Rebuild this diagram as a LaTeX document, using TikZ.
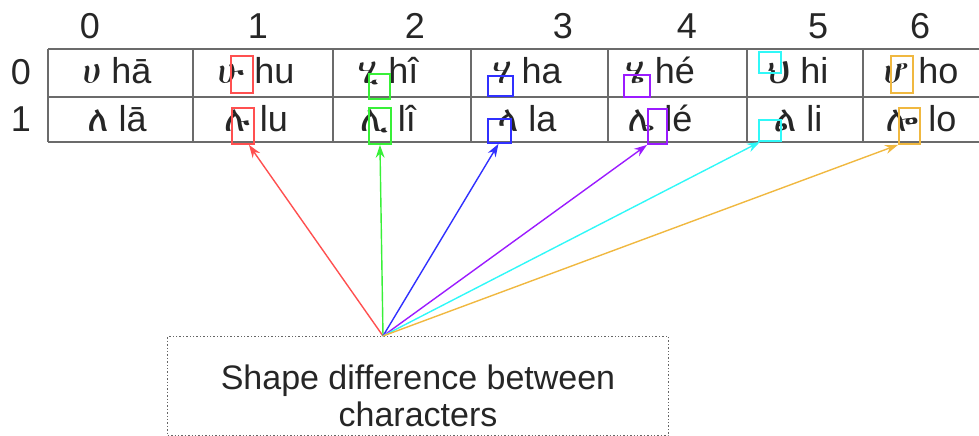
\documentclass[tikz,border=0pt]{standalone}
\usepackage{fontspec}
\setmainfont{Liberation Sans}
\IfFontExistsTF{FreeSerif}{\newfontfamily\ethfont{FreeSerif}}{%
  \IfFontExistsTF{FreeSerif.otf}{\newfontfamily\ethfont{FreeSerif.otf}}{%
    \IfFontExistsTF{Abyssinica SIL}{\newfontfamily\ethfont{Abyssinica SIL}}{%
      \newfontfamily\ethfont{DejaVu Sans}}}}
\usetikzlibrary{arrows.meta}
\definecolor{mred}{HTML}{FF5050}
\definecolor{mgreen}{HTML}{38F038}
\definecolor{mblue}{HTML}{3030FF}
\definecolor{mpurple}{HTML}{9B1BFF}
\definecolor{mcyan}{HTML}{30F8F8}
\definecolor{morange}{HTML}{F0B840}
\begin{document}
\begin{tikzpicture}[x=1pt, y=-1pt,
        grid/.style={draw=black!58, line width=2.3pt},
        cell/.style={font=\fontsize{36}{40}\selectfont, text=black!85, inner sep=0pt, anchor=base},
        hilite/.style={draw, line width=1.9pt, inner sep=0pt, anchor=north west},
        pointer/.style={-{Stealth[length=13pt,width=9pt]}, line width=1.4pt},
        note/.style={draw=black!60, dotted, line width=1.4pt, minimum width=501pt, minimum height=99pt, anchor=north west}]
    \useasboundingbox (0,0) rectangle (979,436);

    % table
    \foreach \y in {49,97,142} \draw[grid] (48,\y) -- (1000,\y);
    \foreach \x in {48,193,333,471,608,747,863} \draw[grid] (\x,49) -- (\x,142);

    \foreach \i/\x in {0/90,1/258,2/415,3/563,4/687,5/818,6/920}
        \node[cell] (col\i) at (\x,39) {\i};
    \node[cell] (row0) at (21,84) {0};
    \node[cell] (row1) at (21,131) {1};

    \foreach \i/\x/\ha/\hb/\la/\lb in {0/117/ሀ/hā/ለ/lā, 1/256/ሁ/hu/ሉ/lu, 2/388/ሂ/hî/ሊ/lî,
            3/527/ሃ/ha/ላ/la, 4/660/ሄ/hé/ሌ/lé, 5/798/ህ/hi/ል/li, 6/921/ሆ/ho/ሎ/lo}{
        \node[cell] (h\i) at (\x,83) {{\ethfont\ha} \hb};
        \node[cell] (l\i) at (\x,131) {{\ethfont\la} \lb};
    }

    % shape marks
    \node[hilite, mred, minimum width=22pt, minimum height=37pt] (red0) at (230,55) {};
    \node[hilite, mred, minimum width=22pt, minimum height=36pt] (red1) at (231,107) {};
    \node[hilite, mgreen, minimum width=21pt, minimum height=25pt] (green0) at (368,73) {};
    \node[hilite, mgreen, minimum width=22pt, minimum height=36pt] (green1) at (368,107) {};
    \node[hilite, mblue, minimum width=25pt, minimum height=20pt] (blue0) at (487,75) {};
    \node[hilite, mblue, minimum width=23pt, minimum height=24pt] (blue1) at (487,118) {};
    \node[hilite, mpurple, minimum width=26pt, minimum height=22pt] (purple0) at (623,74) {};
    \node[hilite, mpurple, minimum width=19pt, minimum height=35pt] (purple1) at (647,108) {};
    \node[hilite, mcyan, minimum width=22pt, minimum height=21pt] (cyan0) at (758,51) {};
    \node[hilite, mcyan, minimum width=22pt, minimum height=21pt] (cyan1) at (758,119) {};
    \node[hilite, morange, minimum width=22pt, minimum height=37pt] (orange0) at (890,55) {};
    \node[hilite, morange, minimum width=21pt, minimum height=36pt] (orange1) at (898,107) {};

    % caption
    \node[note] (box) at (167,336) {};
    \node[font=\fontsize{34}{37}\selectfont, text=black!85, align=center] (caption) at (418,396)
        {Shape difference between\\characters};
    \coordinate (src) at (383,336);

    \draw[pointer, mred] (src) -- ([xshift=6pt]red1.south);
    \draw[pointer, mgreen] (src) -- (green1.south);
    \draw[pointer, mblue] (src) -- ([xshift=-1pt]blue1.south);
    \draw[pointer, mpurple] (src) -- (purple1.south west);
    \draw[pointer, mcyan] (src) -- ([xshift=2pt]cyan1.south west);
    \draw[pointer, morange] (src) -- (orange1.south west);
\end{tikzpicture}
\end{document}
